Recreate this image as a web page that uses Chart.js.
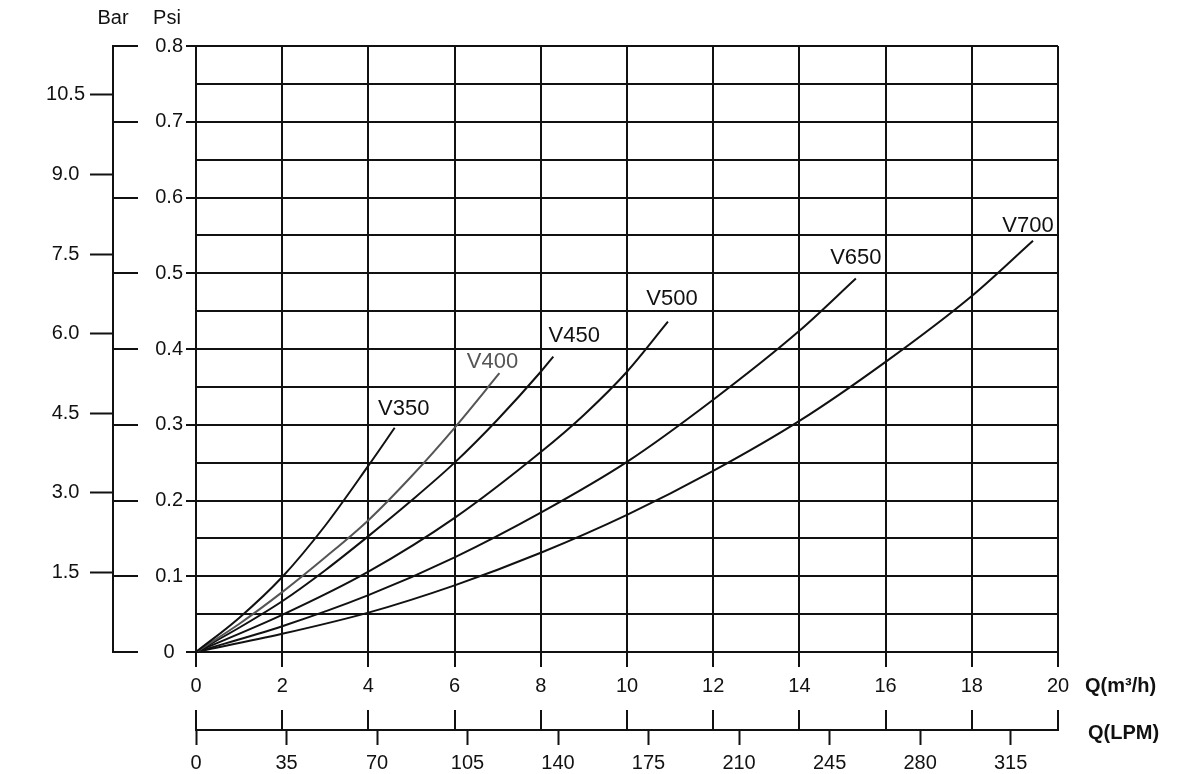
<!DOCTYPE html>
<html>
<head>
<meta charset="utf-8">
<script src="https://cdn.jsdelivr.net/npm/chart.js@4.4.1/dist/chart.umd.min.js"></script>
<style>
  body { margin: 0; background: #fff; }
  #wrap { width: 1199px; height: 774px; }
</style>
</head>
<body>
<div id="wrap"><canvas id="myChart"></canvas></div>
<script>
// curva de pérdida de carga (Q en m3/h, presión en psi)
const seriesNames = ['V350', 'V400', 'V450', 'V500', 'V650', 'V700'];

const qV350 = [0, 1, 2, 3, 4, 4.61];
const pV350 = [0, 0.045, 0.099, 0.167, 0.246, 0.296];

const qV400 = [0, 1, 2, 3, 4, 5, 6, 7.04];
const pV400 = [0, 0.037, 0.079, 0.125, 0.174, 0.232, 0.296, 0.368];

const qV450 = [0, 1, 2, 3, 4, 5, 6, 7, 8, 8.29];
const pV450 = [0, 0.032, 0.067, 0.108, 0.153, 0.2, 0.25, 0.307, 0.37, 0.39];

const qV500 = [0, 2, 4, 6, 8, 9, 10, 10.95];
const pV500 = [0, 0.049, 0.106, 0.177, 0.264, 0.313, 0.37, 0.436];

const qV650 = [0, 2, 4, 6, 8, 10, 12, 14, 15.31];
const pV650 = [0, 0.034, 0.075, 0.125, 0.184, 0.251, 0.333, 0.424, 0.493];

const qV700 = [0, 2, 4, 6, 8, 10, 12, 14, 16, 18, 19.42];
const pV700 = [0, 0.024, 0.052, 0.088, 0.131, 0.181, 0.239, 0.305, 0.383, 0.47, 0.543];

// ejes
const qMax = 20, qStep = 2;
const psiMax = 0.8, psiStep = 0.05;
const barMax = 11.42, barStep = 1.5;
const lpmStep = 35;

const ink = '#111';
const lineColors = [ink, '#555', ink, ink, ink, ink];

const qs = [qV350, qV400, qV450, qV500, qV650, qV700];
const ps = [pV350, pV400, pV450, pV500, pV650, pV700];

const datasets = seriesNames.map((name, i) => ({
    label: name,
    data: qs[i].map((q, j) => ({ x: q, y: ps[i][j] })),
    borderColor: lineColors[i],
    borderWidth: 2,
    pointRadius: 0,
    showLine: true,
    cubicInterpolationMode: 'monotone',
    xAxisID: 'x',
    yAxisID: 'y'
}));

const isMajorPsi = v => Math.round(v * 100) % 10 === 0;

// texto de las curvas y marcas que Chart.js no dibuja solo
const extras = {
    id: 'extras',
    afterDatasetsDraw(chart, args, opts) {
        const ctx = chart.ctx;
        ctx.save();
        ctx.font = '22px "Liberation Sans", Arial, sans-serif';
        ctx.textAlign = 'center';
        ctx.textBaseline = 'bottom';
        chart.data.datasets.forEach((ds, i) => {
            const pts = chart.getDatasetMeta(i).data;
            const last = pts[pts.length - 1];
            const off = opts.labelOffsets[i];
            ctx.fillStyle = ds.borderColor;
            ctx.fillText(ds.label, last.x + off[0], last.y - off[1]);
        });
        ctx.restore();
    },
    afterDraw(chart) {
        const { ctx, scales } = chart;
        const psi = scales.y, bar = scales.bar, q = scales.x, lpm = scales.lpm;
        ctx.save();
        ctx.strokeStyle = ink;
        ctx.lineWidth = 2;
        psi.ticks.forEach(t => {
            if (!isMajorPsi(t.value)) return;
            const y = Math.round(psi.getPixelForValue(t.value));
            ctx.beginPath();
            ctx.moveTo(bar.right - 1, y);
            ctx.lineTo(bar.right + 25, y);
            ctx.stroke();
        });
        q.ticks.forEach(t => {
            const x = Math.round(q.getPixelForValue(t.value));
            ctx.beginPath();
            ctx.moveTo(x, lpm.top - 20);
            ctx.lineTo(x, lpm.top);
            ctx.stroke();
        });
        ctx.fillStyle = ink;
        ctx.textBaseline = 'middle';
        ctx.textAlign = 'center';
        ctx.font = '20px "Liberation Sans", Arial, sans-serif';
        ctx.fillText('Bar', bar.right, 18);
        ctx.fillText('Psi', bar.right + 54, 18);
        ctx.textAlign = 'left';
        ctx.font = 'bold 20px "Liberation Sans", Arial, sans-serif';
        ctx.fillText('Q(m³/h)', chart.chartArea.right + 27, 686);
        ctx.fillText('Q(LPM)', chart.chartArea.right + 30, 733);
        ctx.restore();
    }
};

Chart.defaults.font.family = '"Liberation Sans", Arial, sans-serif';
Chart.defaults.font.size = 20;
Chart.defaults.color = ink;

const config = {
    type: 'scatter',
    data: { datasets: datasets },
    plugins: [extras],
    options: {
        responsive: true,
        maintainAspectRatio: false,
        devicePixelRatio: 1,
        animation: false,
        layout: { padding: { top: 46, right: 141, bottom: 0, left: 0 } },
        plugins: {
            legend: { display: false },
            tooltip: { enabled: false },
            extras: {
                labelOffsets: [[9, 8], [-7, 0], [21, 10], [4, 12], [0, 10], [-5, 4]]
            }
        },
        scales: {
            x: {
                type: 'linear', position: 'bottom', weight: 0,
                min: 0, max: qMax,
                afterFit: s => { s.height = 78; },
                ticks: { stepSize: qStep, autoSkip: false, maxRotation: 0, padding: 7 },
                grid: { color: ink, lineWidth: 2, tickLength: 15, tickColor: ink, tickWidth: 2 },
                border: { color: ink, width: 2 }
            },
            lpm: {
                type: 'linear', position: 'bottom', weight: 1,
                min: 0, max: qMax * 1000 / 60,
                afterFit: s => { s.height = 44; },
                ticks: { stepSize: lpmStep, includeBounds: false, autoSkip: false, maxRotation: 0, padding: 6 },
                grid: { drawOnChartArea: false, tickLength: 15, tickColor: ink, tickWidth: 2 },
                border: { color: ink, width: 2 }
            },
            y: {
                type: 'linear', position: 'left', weight: 0,
                min: 0, max: psiMax,
                afterFit: s => { s.width = 83; },
                ticks: {
                    stepSize: psiStep, autoSkip: false, padding: 3, crossAlign: 'center',
                    callback: v => isMajorPsi(v) ? (v === 0 ? '0' : v.toFixed(1)) : ''
                },
                grid: {
                    color: ink, lineWidth: 2, tickLength: 10, tickWidth: 2,
                    tickColor: c => (c.tick && isMajorPsi(c.tick.value)) ? ink : 'rgba(0,0,0,0)'
                },
                border: { color: ink, width: 2 }
            },
            bar: {
                type: 'linear', position: 'left', weight: 1,
                min: 0, max: barMax,
                afterFit: s => { s.width = 113; },
                ticks: {
                    stepSize: barStep, includeBounds: false, autoSkip: false, padding: 5, crossAlign: 'center',
                    callback: v => v === 0 ? '' : v.toFixed(1)
                },
                grid: {
                    drawOnChartArea: false, tickLength: 23, tickWidth: 2,
                    tickColor: c => (c.tick && c.tick.value === 0) ? 'rgba(0,0,0,0)' : ink
                },
                border: { color: ink, width: 2 }
            }
        }
    }
};

var myChart = new Chart(document.getElementById('myChart'), config);
</script>
</body>
</html>
